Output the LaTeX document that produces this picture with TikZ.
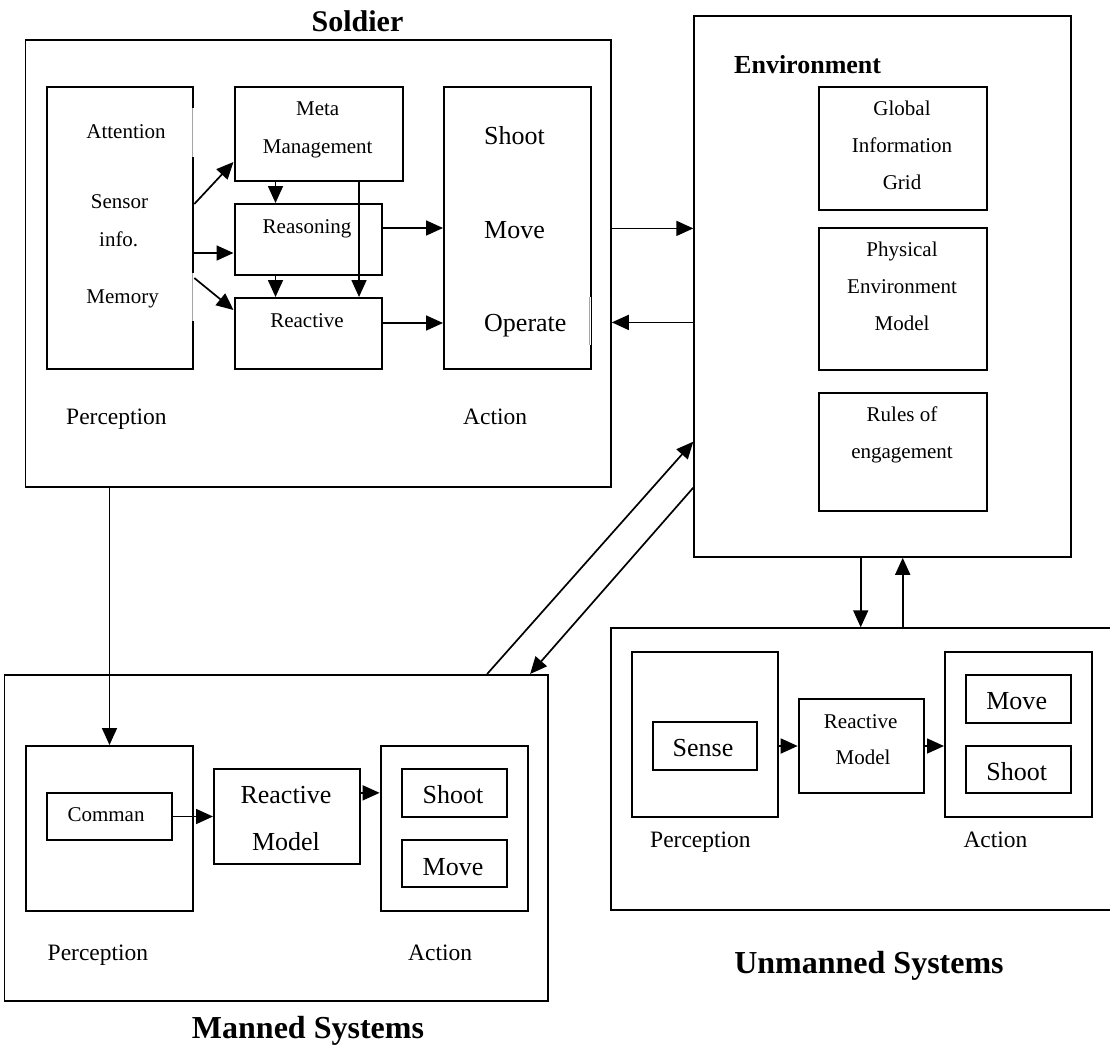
\documentclass[tikz,border=0pt]{standalone}
\usepackage{fontspec}
\setmainfont{Liberation Serif}
\usetikzlibrary{arrows.meta}

\tikzset{
  box/.style={draw, line width=2pt, inner sep=0pt, anchor=north west},
  outer/.style={box, line width=1.8pt},
  arr/.style={line width=1.7pt, -{Triangle[length=17pt,width=15pt]}},
  small/.style={font=\fontsize{21}{25}\selectfont, inner sep=0pt, text height=13.9pt, text depth=0pt},
  large/.style={font=\fontsize{26}{30}\selectfont, inner sep=0pt, text height=17.2pt, text depth=0pt},
  side/.style={font=\fontsize{23.5}{28}\selectfont, inner sep=0pt, text height=15.5pt, text depth=0pt},
  heading/.style={font=\fontsize{32}{36}\selectfont\bfseries, inner sep=0pt, text height=21.1pt, text depth=0pt},
}

\begin{document}
\begin{tikzpicture}[x=1pt, y=-1pt]
\useasboundingbox (0,0) rectangle (1110,1057);
\clip (0,0) rectangle (1110,1057);

% ---------- Soldier ----------
\node[outer, minimum width=585.4pt, minimum height=447pt] (soldier) at (24.6,39) {};
\node[heading, font=\fontsize{30}{34}\selectfont\bfseries, text height=19.8pt] (soldierT) at (357.5,21.5) {Soldier};

\node[box, minimum width=146.7pt, minimum height=282pt] (sPerc) at (45.6,86) {};
\node[box, minimum width=168pt, minimum height=94pt] (sMeta) at (233.5,86) {};
\node[box, minimum width=147pt, minimum height=71pt] (sReason) at (233.5,203) {};
\node[box, minimum width=147pt, minimum height=71pt] (sReact) at (233.5,297) {};
\node[box, minimum width=146.5pt, minimum height=282pt] (sAct) at (443,86) {};

% breaks in the right sides of the perception and action columns
\draw[white, line width=3.5pt] (192.3,108) -- (192.3,157);
\draw[white, line width=3.5pt] (192.3,273) -- (192.3,321);
\draw[white, line width=3.5pt] (589.5,297) -- (589.5,345);
\draw[black!35, line width=0.4pt] (192.3,108) -- (192.3,157);
\draw[black!35, line width=0.4pt] (192.3,273) -- (192.3,321);
\draw[black!35, line width=0.4pt] (589.5,297) -- (589.5,345);

\node[small] (sAtt) at (126,132) {Attention};
\node[small] (sSen) at (119.5,202) {Sensor};
\node[small] (sInf) at (118.7,240) {info.};
\node[small] (sMem) at (122.6,297) {Memory};
\node[small] (sMetaA) at (317.7,109) {Meta};
\node[small] (sMetaB) at (317.7,147) {Management};
\node[small] (sReasT) at (307,227) {Reasoning};
\node[small] (sReacT) at (307,321) {Reactive};
\node[large, anchor=west] (sShoot) at (484,136) {Shoot};
\node[large, anchor=west] (sMove) at (484,230) {Move};
\node[large, anchor=west] (sOper) at (484,323) {Operate};
\node[side, anchor=west] (sPercT) at (66,417) {Perception};
\node[side, anchor=west] (sActT) at (463,417) {Action};

\draw[arr] ([yshift=24pt]sPerc.east) -- ([yshift=20pt]sMeta.south west);
\draw[arr] ([yshift=-25pt]sPerc.east) -- ([yshift=-25pt]sPerc.east -| sReason.west);
\draw[arr] ([yshift=-50pt]sPerc.east) -- ([yshift=-13pt]sReact.north west);
\draw[arr] ([xshift=42pt]sMeta.south west) -- ([xshift=42pt]sReason.north west);
\draw[arr] ([xshift=42pt]sReason.south west) -- ([xshift=42pt]sReact.north west);
\draw[arr] ([xshift=125.5pt]sMeta.south west) -- ([xshift=125.5pt]sReact.north west);
\draw[arr] ([yshift=11.5pt]sReason.east) -- ([yshift=11.5pt]sReason.east -| sAct.west);
\draw[arr] ([yshift=10.5pt]sReact.east) -- ([yshift=10.5pt]sReact.east -| sAct.west);

% ---------- Environment ----------
\node[outer, minimum width=376.7pt, minimum height=540.5pt] (env) at (693.3,15.5) {};
\node[heading, font=\fontsize{26}{30}\selectfont\bfseries, text height=17.2pt, anchor=west] (envT) at (734,64.7) {Environment};

\node[box, minimum width=167.7pt, minimum height=122.9pt] (gig) at (818.3,85.8) {};
\node[box, minimum width=167.7pt, minimum height=141.9pt] (pem) at (818.3,226.7) {};
\node[box, minimum width=167.7pt, minimum height=118.3pt] (roe) at (818.3,391.7) {};

\node[small] (gigA) at (902,109) {Global};
\node[small] (gigB) at (902,145.5) {Information};
\node[small] (gigC) at (902,182.6) {Grid};
\node[small] (pemA) at (902,250) {Physical};
\node[small] (pemB) at (902,287) {Environment};
\node[small] (pemC) at (902,323.6) {Model};
\node[small] (roeA) at (902,415) {Rules of};
\node[small] (roeB) at (902,452) {engagement};

\draw[arr] ([yshift=35pt]soldier.east) -- ([yshift=35pt]soldier.east -| env.west);
\draw[arr] ([yshift=-59pt]soldier.east -| env.west) -- ([yshift=-59pt]soldier.east);

% ---------- Manned systems ----------
\node[outer, minimum width=543.7pt, minimum height=326pt] (manned) at (3.6,674) {};
\node[heading] (mannedT) at (308,1028) {Manned Systems};

\node[box, minimum width=167pt, minimum height=165pt] (mPerc) at (25,745) {};
\node[box, minimum width=125.7pt, minimum height=47pt] (mCmd) at (45.7,792) {};
\node[box, minimum width=146pt, minimum height=94.7pt] (mRM) at (213,768) {};
\node[box, minimum width=147.2pt, minimum height=165pt] (mAct) at (379.6,745) {};
\node[box, minimum width=104.7pt, minimum height=47.7pt] (mShoot) at (401,768) {};
\node[box, minimum width=104.7pt, minimum height=47pt] (mMove) at (401,839) {};

\node[small] (mCmdT) at (106,815) {Comman};
\node[large] (mRMa) at (286,795) {Reactive};
\node[large] (mRMb) at (286,842) {Model};
\node[large] (mShootT) at (453,795) {Shoot};
\node[large] (mMoveT) at (453,866.5) {Move};
\node[side, anchor=west] (mPercT) at (47.5,953) {Perception};
\node[side, anchor=west] (mActT) at (408,953) {Action};

\draw[arr] (mPerc.north |- soldier.south) -- (mPerc.north);
\draw[arr] (mCmd.east) -- (mCmd.east -| mRM.west);
\draw[arr] (mRM.east |- mShoot) -- (mAct.west |- mShoot);

\draw[arr] ([xshift=-62pt]manned.north east) -- ([yshift=-155pt]env.west);
\draw[arr] ([yshift=-201pt]env.west) -- ([xshift=-19pt]manned.north east);

% ---------- Unmanned systems ----------
\node[outer, minimum width=520pt, minimum height=282pt] (unmanned) at (610,627.3) {};
\node[heading] (unmannedT) at (869,963) {Unmanned Systems};

\node[box, minimum width=146.6pt, minimum height=165pt] (uPerc) at (630.7,651) {};
\node[box, minimum width=104.6pt, minimum height=47.4pt] (uSense) at (651.7,721.3) {};
\node[box, minimum width=125.6pt, minimum height=94.6pt] (uRM) at (797.7,697.7) {};
\node[box, minimum width=146.7pt, minimum height=165pt] (uAct) at (944,651) {};
\node[box, minimum width=105pt, minimum height=47.7pt] (uMove) at (965,674) {};
\node[box, minimum width=105pt, minimum height=47.3pt] (uShoot) at (965,745) {};

\node[large] (uSenseT) at (703,748) {Sense};
\node[small] (uRMa) at (860.7,721.7) {Reactive};
\node[small] (uRMb) at (863,757.7) {Model};
\node[large] (uMoveT) at (1016.7,701) {Move};
\node[large] (uShootT) at (1016.7,771.7) {Shoot};
\node[side, anchor=west] (uPercT) at (650,840) {Perception};
\node[side, anchor=west] (uActT) at (963.3,840) {Action};

\draw[arr] (uRM.west -| uPerc.east) -- (uRM.west);
\draw[arr] (uRM.east) -- (uRM.east -| uAct.west);

\draw[arr] ([xshift=167.4pt]env.south west) -- ([xshift=167.4pt]env.south west |- unmanned.north);
\draw[arr] ([xshift=209.4pt]env.south west |- unmanned.north) -- ([xshift=209.4pt]env.south west);

\end{tikzpicture}
\end{document}
